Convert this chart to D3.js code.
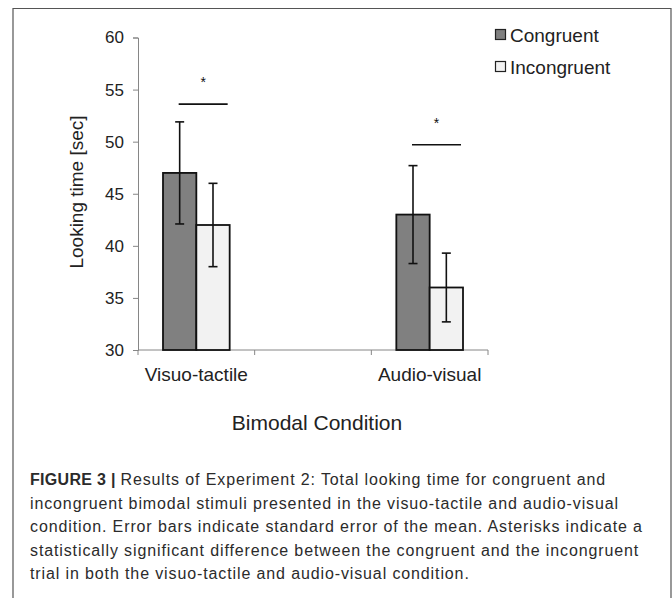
<!DOCTYPE html>
<html>
<head>
<meta charset="utf-8">
<script src="https://cdn.jsdelivr.net/npm/d3@7"></script>
<style>
  body { margin: 0; background: #fff; }
  text { font-family: "Liberation Sans", Arial, sans-serif; }
</style>
</head>
<body>
<div id="chart-container"></div>
<script>
// Data (middle category is an empty spacer, as in the original)
var conditions = ["Visuo-tactile", "", "Audio-visual"];
var series = ["Congruent", "Incongruent"];
var congruent = [47, null, 43];
var incongruent = [42, null, 36];
var congruentErr = [4.9, null, 4.7];
var incongruentErr = [4.0, null, 3.3];
var sigLevel = [53.6, null, 49.7];   // height of the significance bar
var yTicks = [30, 35, 40, 45, 50, 55, 60];
var captionLines = [
  "Results of Experiment 2: Total looking time for congruent and",
  "incongruent bimodal stimuli presented in the visuo-tactile and audio-visual",
  "condition. Error bars indicate standard error of the mean. Asterisks indicate a",
  "statistically significant difference between the congruent and the incongruent",
  "trial in both the visuo-tactile and audio-visual condition."
];

var W = 672, H = 598;
var fills = { "Congruent": "#808080", "Incongruent": "#f2f2f2" };
var axisColor = "#868686";

var svg = d3.select("#chart-container")
    .append("svg")
    .attr("width", W)
    .attr("height", H);

// frame
svg.append("path")
    .attr("d", "M13,598 V8.5 H671 V598")
    .attr("fill", "none")
    .attr("stroke", "#555")
    .attr("stroke-width", 1.2);

// scales
var x = d3.scaleBand().domain(conditions).range([138, 488]);
var xs = d3.scaleBand().domain(series).range([0, x.bandwidth()]).paddingOuter(0.75);
var y = d3.scaleLinear().domain([30, 60]).range([350, 37.5]);

// y axis
var yAxis = svg.append("g")
    .attr("transform", "translate(" + x.range()[0] + ",0)")
    .call(d3.axisLeft(y).tickValues(yTicks).tickSize(5).tickPadding(9));
yAxis.select(".domain").attr("stroke", axisColor);
yAxis.selectAll(".tick line").attr("stroke", axisColor);
yAxis.selectAll(".tick text")
    .attr("fill", "#222")
    .style("font-size", "17px")
    .style("font-family", "'Liberation Sans', Arial, sans-serif");

// x axis baseline with ticks at category boundaries
var xAxis = svg.append("g").attr("transform", "translate(0," + y(30) + ")");
xAxis.append("line")
    .attr("x1", x.range()[0]).attr("x2", x.range()[1])
    .attr("stroke", axisColor);
var bounds = conditions.map(function(c) { return x(c); }).concat([x.range()[1]]);
xAxis.selectAll(".btick")
    .data(bounds)
    .enter().append("line")
    .attr("x1", function(d) { return d; })
    .attr("x2", function(d) { return d; })
    .attr("y1", 0).attr("y2", 5)
    .attr("stroke", axisColor);
xAxis.selectAll(".xlabel")
    .data(conditions)
    .enter().append("text")
    .attr("x", function(c) { return x(c) + x.bandwidth() / 2; })
    .attr("y", 31)
    .attr("text-anchor", "middle")
    .attr("fill", "#222")
    .style("font-size", "19px")
    .text(function(c) { return c; });

// bars
var rows = [];
conditions.forEach(function(c, i) {
    if (congruent[i] == null) return;
    rows.push({ cond: c, key: "Congruent", value: congruent[i], err: congruentErr[i] });
    rows.push({ cond: c, key: "Incongruent", value: incongruent[i], err: incongruentErr[i] });
});

function cx(d) { return x(d.cond) + xs(d.key) + xs.bandwidth() / 2; }

svg.selectAll(".bar")
    .data(rows)
    .enter().append("rect")
    .attr("class", "bar")
    .attr("x", function(d) { return x(d.cond) + xs(d.key); })
    .attr("width", xs.bandwidth())
    .attr("y", function(d) { return y(d.value); })
    .attr("height", function(d) { return y(30) - y(d.value); })
    .attr("fill", function(d) { return fills[d.key]; })
    .attr("stroke", "#111")
    .attr("stroke-width", 1.8);

// error bars
var eb = svg.selectAll(".err")
    .data(rows)
    .enter().append("g")
    .attr("class", "err")
    .attr("stroke", "#111")
    .attr("stroke-width", 1.6);
eb.append("line")
    .attr("x1", cx).attr("x2", cx)
    .attr("y1", function(d) { return y(d.value + d.err); })
    .attr("y2", function(d) { return y(d.value - d.err); });
eb.append("line")
    .attr("x1", function(d) { return cx(d) - 4.5; })
    .attr("x2", function(d) { return cx(d) + 4.5; })
    .attr("y1", function(d) { return y(d.value + d.err); })
    .attr("y2", function(d) { return y(d.value + d.err); });
eb.append("line")
    .attr("x1", function(d) { return cx(d) - 4.5; })
    .attr("x2", function(d) { return cx(d) + 4.5; })
    .attr("y1", function(d) { return y(d.value - d.err); })
    .attr("y2", function(d) { return y(d.value - d.err); });

// significance bars
var sig = conditions.map(function(c, i) { return { cond: c, level: sigLevel[i] }; })
    .filter(function(d) { return d.level != null; });
sig.forEach(function(d) {
    var x1 = x(d.cond) + xs("Congruent") + xs.bandwidth() / 2 - 1;
    var x2 = x(d.cond) + xs("Incongruent") + xs.bandwidth() - 2;
    svg.append("line")
        .attr("x1", x1).attr("x2", x2)
        .attr("y1", y(d.level)).attr("y2", y(d.level))
        .attr("stroke", "#111")
        .attr("stroke-width", 1.6);
    svg.append("text")
        .attr("x", (x1 + x2) / 2)
        .attr("y", y(d.level) - 17)
        .attr("text-anchor", "middle")
        .attr("fill", "#111")
        .style("font-size", "14px")
        .text("*");
});

// axis titles
svg.append("text")
    .attr("transform", "translate(83,192) rotate(-90)")
    .attr("text-anchor", "middle")
    .attr("fill", "#222")
    .style("font-size", "19px")
    .text("Looking time [sec]");

svg.append("text")
    .attr("x", 317)
    .attr("y", 430)
    .attr("text-anchor", "middle")
    .attr("fill", "#222")
    .style("font-size", "21px")
    .text("Bimodal Condition");

// legend
var legend = svg.selectAll(".legend")
    .data(series)
    .enter().append("g")
    .attr("transform", function(d, i) { return "translate(495," + (35 + i * 32) + ")"; });
legend.append("rect")
    .attr("x", 0.5).attr("y", -5.5)
    .attr("width", 10).attr("height", 10)
    .attr("fill", function(d) { return fills[d]; })
    .attr("stroke", "#222")
    .attr("stroke-width", 1.2);
legend.append("text")
    .attr("x", 15)
    .attr("dy", "0.35em")
    .attr("fill", "#222")
    .style("font-size", "19px")
    .text(function(d) { return d; });

// caption
var cap = svg.append("text")
    .attr("fill", "#2b2b2b")
    .style("font-size", "16px")
    .style("letter-spacing", "0.88px");
captionLines.forEach(function(line, i) {
    var t = cap.append("tspan")
        .attr("x", 30)
        .attr("y", 485 + i * 23.6);
    if (i === 0) {
        t.append("tspan").style("font-weight", "bold").style("letter-spacing", "0.3px").text("FIGURE 3 | ");
        t.append("tspan").text(line);
    } else {
        t.text(line);
    }
});
</script>
</body>
</html>
